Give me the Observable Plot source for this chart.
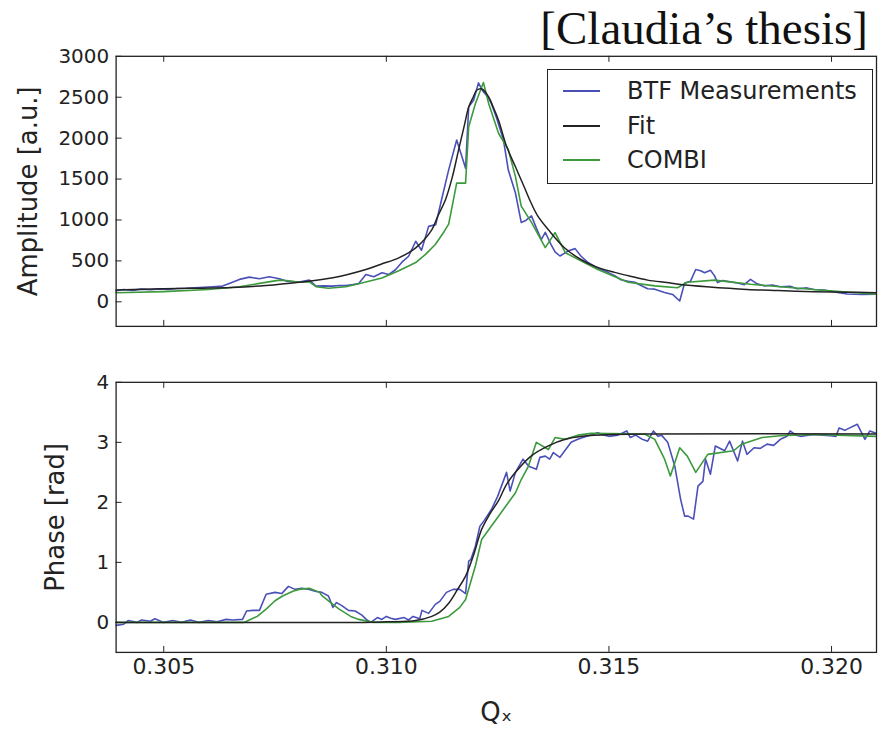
<!DOCTYPE html>
<html><head><meta charset="utf-8">
<script src="https://cdn.jsdelivr.net/npm/d3@7"></script>
<script src="https://cdn.jsdelivr.net/npm/@observablehq/plot@0.6"></script>
<style>
body{margin:0;background:#fff;}
#wrap{position:relative;width:879px;height:730px;overflow:hidden;font-family:"DejaVu Sans";background:#fff;}
#title{position:absolute;right:11px;top:5px;font-family:"Liberation Serif";font-size:47px;line-height:1;color:#111;white-space:nowrap;}
#top{position:absolute;left:0;top:0;}
#bot{position:absolute;left:0;top:332px;}
#legend{position:absolute;left:547px;top:69px;width:326px;height:115px;border:1.3px solid #222;background:#fff;box-sizing:border-box;}
.lrow{position:absolute;left:0;height:30px;display:flex;align-items:center;font-size:24px;color:#222;white-space:nowrap;}
.lrow svg{margin-left:15px;margin-right:27px;}
</style></head>
<body>
<div id="wrap">
  <div id="top"></div>
  <div id="bot"></div>
  <div id="title">[Claudia’s thesis]</div>
  <div id="legend"></div>
</div>
<script>
// ---------- data ----------
const seriesNames = ["BTF Measurements", "Fit", "COMBI"];
const seriesColors = ["#4b50b8", "#222222", "#3c9a3c"];
const xTicks = [0.305, 0.310, 0.315, 0.320];
const ampTicks = [0, 500, 1000, 1500, 2000, 2500, 3000];
const phaseTicks = [0, 1, 2, 3, 4];

// Amplitude: BTF measurements
const ampMeasQ = [0.30393,0.3041,0.3043,0.3045,0.3047,0.3049,0.3051,0.3053,0.3055,0.3057,0.3059,0.3061,0.30632,0.3065,0.3067,0.30692,0.30715,0.30737,0.3076,0.30775,0.30804,0.30827,0.30842,0.3086,0.30878,0.30895,0.30909,0.30925,0.30938,0.30954,0.30972,0.3099,0.31006,0.31021,0.31035,0.3105,0.31066,0.31079,0.31095,0.31111,0.31124,0.3114,0.31158,0.31178,0.31185,0.31196,0.31207,0.31216,0.3123,0.31236,0.31248,0.31263,0.31274,0.3129,0.31303,0.31312,0.31326,0.31337,0.31348,0.31357,0.3137,0.31379,0.3139,0.31408,0.31424,0.31437,0.31453,0.31475,0.31498,0.31513,0.31527,0.31543,0.31558,0.31572,0.31587,0.31603,0.31625,0.31643,0.31659,0.3167,0.31683,0.31695,0.31706,0.31715,0.31728,0.31737,0.31744,0.31755,0.31766,0.31789,0.31804,0.31818,0.31833,0.31849,0.31867,0.31885,0.31907,0.31923,0.31945,0.3196,0.31983,0.32006,0.32035,0.32068,0.321];
const ampMeas = [135,150,140,155,148,158,150,162,165,172,178,185,192,230,274,302,282,306,282,253,241,265,192,195,192,200,198,210,225,334,306,355,334,395,484,557,740,630,922,943,1247,1612,1977,1633,2382,2463,2675,2580,2490,2420,2240,1980,1610,1330,970,990,1050,900,760,850,700,610,560,620,650,560,480,410,360,320,270,250,240,200,160,155,115,90,10,230,250,395,380,355,385,320,235,260,250,230,210,275,220,195,205,185,190,160,170,150,145,120,95,90,92];

// Amplitude: fit
const ampFitQ = [0.30393,0.305,0.3056,0.30654,0.3073,0.30804,0.3088,0.30954,0.30988,0.31028,0.31066,0.31102,0.31115,0.31133,0.31148,0.31162,0.31175,0.31185,0.31195,0.31203,0.31215,0.3123,0.3124,0.31252,0.3127,0.3129,0.3131,0.31325,0.3134,0.31364,0.314,0.31437,0.3147,0.31513,0.3155,0.31587,0.3163,0.31661,0.3172,0.3181,0.3188,0.3196,0.3203,0.321];
const ampFit = [145,160,165,175,200,240,294,395,460,537,660,880,1040,1250,1520,1850,2150,2380,2500,2585,2600,2500,2380,2220,1900,1650,1400,1210,1050,880,660,517,430,360,310,265,235,213,185,152,138,124,118,112];

// Amplitude: COMBI
const ampCombiQ = [0.30393,0.305,0.306,0.3067,0.30715,0.3076,0.30775,0.30804,0.30827,0.30842,0.3087,0.30909,0.30938,0.3099,0.31028,0.31066,0.31088,0.3111,0.3113,0.3114,0.31158,0.31178,0.31185,0.312,0.31218,0.3123,0.31252,0.31274,0.3129,0.31303,0.31326,0.31357,0.31379,0.31402,0.31437,0.31475,0.31543,0.31603,0.31654,0.31676,0.31737,0.31818,0.3196,0.321];
const ampCombi = [110,125,150,185,225,265,260,240,245,185,165,185,220,290,380,480,580,700,860,950,1450,1450,2140,2420,2680,2420,2060,1860,1530,1170,970,663,845,600,500,395,240,195,172,240,265,215,150,92];

// Phase: BTF measurements
const phMeasQ = [0.30393,0.3041,0.3042,0.3044,0.3045,0.3047,0.3048,0.305,0.3052,0.3054,0.3056,0.3057,0.3058,0.306,0.3062,0.3064,0.30655,0.30677,0.30686,0.307,0.30715,0.3073,0.3075,0.30765,0.3078,0.30795,0.3081,0.30827,0.3084,0.30855,0.3087,0.3088,0.30888,0.309,0.30915,0.3093,0.30945,0.30955,0.30965,0.3098,0.3099,0.31,0.3101,0.3102,0.3104,0.3105,0.3106,0.31075,0.3108,0.31095,0.3111,0.3112,0.31135,0.3115,0.31165,0.31178,0.31185,0.3119,0.312,0.3121,0.3122,0.31236,0.3125,0.3126,0.3127,0.31278,0.3129,0.31307,0.3132,0.31337,0.31345,0.31357,0.31367,0.31375,0.3139,0.314,0.31415,0.3143,0.3145,0.31475,0.3149,0.315,0.3152,0.3154,0.31548,0.3156,0.31575,0.31587,0.316,0.3161,0.31618,0.31632,0.31648,0.31661,0.3167,0.31678,0.3169,0.317,0.31711,0.31717,0.31728,0.31739,0.3176,0.31771,0.31789,0.318,0.3181,0.31826,0.3184,0.31855,0.3187,0.31885,0.319,0.31907,0.3192,0.3193,0.3196,0.3198,0.31997,0.3201,0.32017,0.3203,0.32035,0.32058,0.32075,0.32086,0.321];
const phMeas = [-0.05,-0.03,0.03,0.0,0.04,0.02,0.06,0.0,0.03,0.0,0.04,0.02,0.0,0.03,0.01,0.05,0.04,0.05,0.19,0.2,0.2,0.47,0.5,0.48,0.6,0.55,0.57,0.55,0.52,0.5,0.44,0.25,0.33,0.28,0.2,0.19,0.12,0.05,0.0,0.08,0.05,0.1,0.07,0.05,0.08,0.04,0.1,0.06,0.2,0.15,0.3,0.35,0.5,0.55,0.55,0.48,1.02,1.05,1.27,1.6,1.7,1.88,2.1,2.3,2.5,2.19,2.5,2.72,2.6,2.55,2.75,2.77,2.72,2.83,2.75,2.85,3.0,3.05,3.1,3.16,3.12,3.1,3.12,3.19,3.08,3.12,3.05,3.02,3.19,3.1,3.12,3.0,2.6,2.05,1.77,1.77,1.72,2.27,2.35,2.72,2.47,2.94,2.86,3.02,2.69,3.02,2.8,2.91,2.9,2.97,2.95,3.05,3.1,3.19,3.12,3.1,3.13,3.12,3.11,3.1,3.24,3.2,3.22,3.3,3.05,3.19,3.15];

// Phase: fit
const phFitQ = [0.30393,0.3095,0.31,0.31066,0.31102,0.3112,0.3114,0.3116,0.31178,0.31195,0.31214,0.31232,0.31252,0.3127,0.3129,0.31325,0.31364,0.31402,0.3144,0.3151,0.316,0.321];
const phFit = [0,0,0.01,0.03,0.1,0.17,0.32,0.55,0.77,1.1,1.55,1.8,2.03,2.3,2.5,2.77,2.94,3.05,3.1,3.13,3.14,3.14];

// Phase: COMBI
const phCombiQ = [0.30393,0.3068,0.30686,0.3071,0.3073,0.3075,0.30767,0.3079,0.30804,0.30827,0.3085,0.30856,0.3088,0.30894,0.3092,0.30938,0.3097,0.31028,0.31102,0.3114,0.31165,0.31178,0.312,0.31214,0.31252,0.3129,0.31303,0.31319,0.31337,0.31364,0.31379,0.31402,0.3143,0.3146,0.3158,0.31603,0.31625,0.31638,0.31659,0.31676,0.31695,0.31722,0.3178,0.31798,0.31844,0.31885,0.3196,0.321];
const phCombi = [0,0,0.02,0.1,0.22,0.36,0.44,0.52,0.55,0.57,0.5,0.44,0.3,0.22,0.1,0.05,0.0,0.0,0.02,0.1,0.25,0.38,0.94,1.38,1.77,2.16,2.38,2.6,3.0,2.88,3.08,3.05,3.12,3.15,3.14,3.05,2.72,2.44,2.91,2.77,2.5,2.8,2.86,2.97,3.08,3.11,3.13,3.1];

// ---------- build ----------
const zip = (qs, vs, s) => qs.map((q, i) => ({q, v: vs[i], s}));
const ampData = [
  ...zip(ampMeasQ, ampMeas, seriesNames[0]),
  ...zip(ampCombiQ, ampCombi, seriesNames[2])
];
const ampFitData = zip(ampFitQ, ampFit, seriesNames[1]);
const phData = [
  ...zip(phMeasQ, phMeas, seriesNames[0]),
  ...zip(phCombiQ, phCombi, seriesNames[2])
];
const phFitData = zip(phFitQ, phFit, seriesNames[1]);

const W = 882, ML = 116, MR = 3, PH = 271;
const innerW = W - ML - MR;
const xDomain = [0.30393, 0.32101];
const colorScale = {domain: seriesNames, range: seriesColors};
const font = {fontFamily: "DejaVu Sans", background: "transparent", color: "#222"};

function frameTicks(yTicks) {
  return [
    Plot.tickY(yTicks, {y: d => d, insetRight: innerW - 6, stroke: "#222"}),
    Plot.tickX(xTicks, {x: d => d, insetBottom: PH - 6, stroke: "#222"}),
    Plot.tickX(xTicks, {x: d => d, insetTop: PH - 6, stroke: "#222"})
  ];
}

const topPlot = Plot.plot({
  width: W, height: 332, marginLeft: ML, marginRight: MR, marginTop: 56, marginBottom: 5,
  style: font,
  x: {domain: xDomain, axis: null},
  y: {domain: [-300, 3000]},
  color: colorScale,
  marks: [
    Plot.line(ampData, {x: "q", y: "v", z: "s", stroke: "s", strokeWidth: 1.6}),
    Plot.line(ampFitData, {x: "q", y: "v", stroke: "s", strokeWidth: 1.5, curve: "catmull-rom"}),
    Plot.frame({stroke: "#222", strokeWidth: 1.3}),
    ...frameTicks(ampTicks),
    Plot.axisY(ampTicks, {tickSize: 0, tickPadding: 7, fontSize: 20, tickFormat: d => String(d), label: null}),
    Plot.text(["Amplitude [a.u.]"], {frameAnchor: "left", textAnchor: "middle", text: d => d, rotate: -90, dx: -88, fontSize: 26, fill: "#222"})
  ]
});
document.getElementById("top").appendChild(topPlot);

const botPlot = Plot.plot({
  width: W, height: 398, marginLeft: ML, marginRight: MR, marginTop: 50, marginBottom: 77,
  style: font,
  x: {domain: xDomain},
  y: {domain: [-0.5, 4]},
  color: colorScale,
  marks: [
    Plot.line(phData, {x: "q", y: "v", z: "s", stroke: "s", strokeWidth: 1.6}),
    Plot.line(phFitData, {x: "q", y: "v", stroke: "s", strokeWidth: 1.5, curve: "catmull-rom"}),
    Plot.frame({stroke: "#222", strokeWidth: 1.3}),
    ...frameTicks(phaseTicks),
    Plot.axisY(phaseTicks, {tickSize: 0, tickPadding: 7, fontSize: 20, tickFormat: d => String(d), label: null}),
    Plot.axisX(xTicks, {tickSize: 0, tickPadding: 6, fontSize: 22, tickFormat: d3.format(".3f"), label: null}),
    Plot.text(["Phase [rad]"], {frameAnchor: "left", textAnchor: "middle", text: d => d, rotate: -90, dx: -61, fontSize: 26, fill: "#222"}),
    Plot.text(["Qₓ"], {frameAnchor: "bottom", text: d => d, dy: 69, fontSize: 26, fill: "#222"})
  ]
});
document.getElementById("bot").appendChild(botPlot);

// legend
const legend = document.getElementById("legend");
seriesNames.forEach((name, i) => {
  const row = document.createElement("div");
  row.className = "lrow";
  row.style.top = (6 + i * 34.5) + "px";
  row.innerHTML = `<svg width="37" height="4"><line x1="0" y1="2" x2="37" y2="2" stroke="${seriesColors[i]}" stroke-width="2"/></svg><span>${name}</span>`;
  legend.appendChild(row);
});
</script>
</body></html>
